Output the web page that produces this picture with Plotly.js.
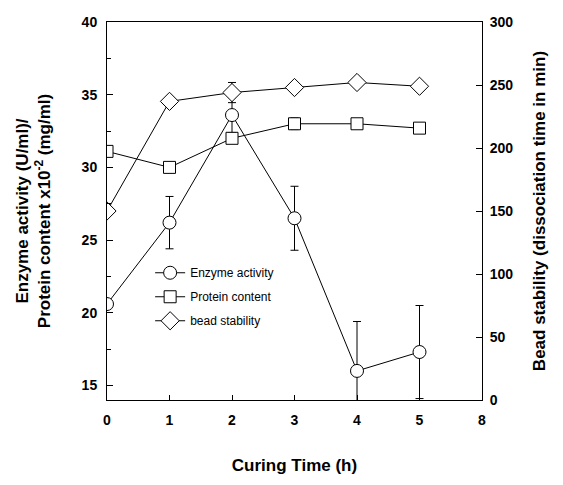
<!DOCTYPE html>
<html>
<head>
<meta charset="utf-8">
<script src="https://cdn.plot.ly/plotly-3.0.1.min.js"></script>
<style>html,body{margin:0;padding:0;background:#fff}#chart{width:563px;height:485px}</style>
</head>
<body>
<div id="chart"></div>
<script>
const curingTime = [0, 1, 2, 3, 4, 5];
const enzymeActivity = [20.6, 26.2, 33.6, 26.5, 16.0, 17.3];
const enzymeError = [0, 1.8, 1.2, 2.2, 3.4, 3.2];
const proteinContent = [31.1, 30.0, 32.0, 33.0, 33.0, 32.7];
const proteinError = [0, 0, 0.35, 0.4, 0, 0];
const beadStability = [150, 237, 244, 248, 252, 249];
const beadError = [0, 0, 8, 0, 0, 0];
const xTickVals = [0, 1, 2, 3, 4, 5, 6];
const xTickText = ['0', '1', '2', '3', '4', '5', '8'];
const leftMinorTicks = [17.5, 22.5, 27.5, 32.5, 37.5];

const FONT = 'Liberation Sans, Arial, sans-serif';
const NARROW = 'Liberation Sans Narrow, Liberation Sans, Arial, sans-serif';
const mk = (sym, size) => ({symbol: sym, size: size, color: '#ffffff', line: {color: '#000', width: 1}});
const err = (arr) => ({type: 'data', array: arr, visible: true, color: '#000', thickness: 1, width: 4});

const traces = [
  {x: curingTime, y: enzymeActivity, error_y: err(enzymeError), name: 'Enzyme activity', legendgroup: 'a',
   mode: 'lines+markers', line: {color: '#000', width: 1}, marker: mk('circle', 13), yaxis: 'y'},
  {x: curingTime, y: proteinContent, error_y: err(proteinError), name: 'Protein content', legendgroup: 'b',
   mode: 'lines+markers', line: {color: '#000', width: 1}, marker: mk('square', 12), yaxis: 'y'},
  {x: curingTime, y: beadStability, error_y: err(beadError), name: 'bead stability', legendgroup: 'c',
   mode: 'lines+markers', line: {color: '#000', width: 1}, marker: mk('diamond', 14), yaxis: 'y2'}
];

const layout = {
  width: 563, height: 485,
  margin: {l: 107, r: 81, t: 22, b: 85},
  paper_bgcolor: '#fff', plot_bgcolor: '#fff',
  font: {family: FONT, color: '#000'},
  showlegend: true,
  legend: {x: 0.115, y: 0.375, xanchor: 'left', yanchor: 'top', bgcolor: 'rgba(0,0,0,0)',
           font: {size: 12, family: NARROW, color: '#000'},
           tracegroupgap: 5, itemwidth: 30},
  xaxis: {range: [0, 6], tickvals: xTickVals, ticktext: xTickText, ticks: 'inside', ticklen: 5,
          tickcolor: '#000', showline: true, linecolor: '#000', linewidth: 1, mirror: true,
          showgrid: false, zeroline: false, ticklabelstandoff: 7,
          tickfont: {size: 14, family: NARROW, weight: 'bold'},
          title: {text: '<b>Curing Time (h)</b>', font: {size: 17, family: FONT}, standoff: 32}},
  yaxis: {range: [14, 40], tick0: 0, dtick: 5, ticks: 'inside', ticklen: 6,
          minor: {tickmode: 'array', tickvals: leftMinorTicks, ticks: 'inside', ticklen: 4, tickcolor: '#000', tickwidth: 1},
          tickcolor: '#000', showline: true, linecolor: '#000', linewidth: 1,
          showgrid: false, zeroline: false, ticklabelstandoff: 6,
          tickfont: {size: 14, family: NARROW, weight: 'bold'},
          title: {text: '<b>Enzyme activity (U/ml)/<br>Protein content x10<sup>-2</sup> (mg/ml)</b>', font: {size: 17, family: FONT}, standoff: 26}},
  yaxis2: {range: [0, 300], overlaying: 'y', side: 'right', tick0: 0, dtick: 50,
           ticks: 'inside', ticklen: 6, tickcolor: '#000', showline: true, linecolor: '#000', linewidth: 1,
           showgrid: false, zeroline: false, ticklabelstandoff: 4,
           tickfont: {size: 14, family: NARROW, weight: 'bold'},
           title: {text: '<b>Bead stability (dissociation time in min)</b>', font: {size: 17, family: FONT}, standoff: 20}}
};

Plotly.newPlot('chart', traces, layout, {displayModeBar: false, staticPlot: true});
</script>
</body>
</html>
